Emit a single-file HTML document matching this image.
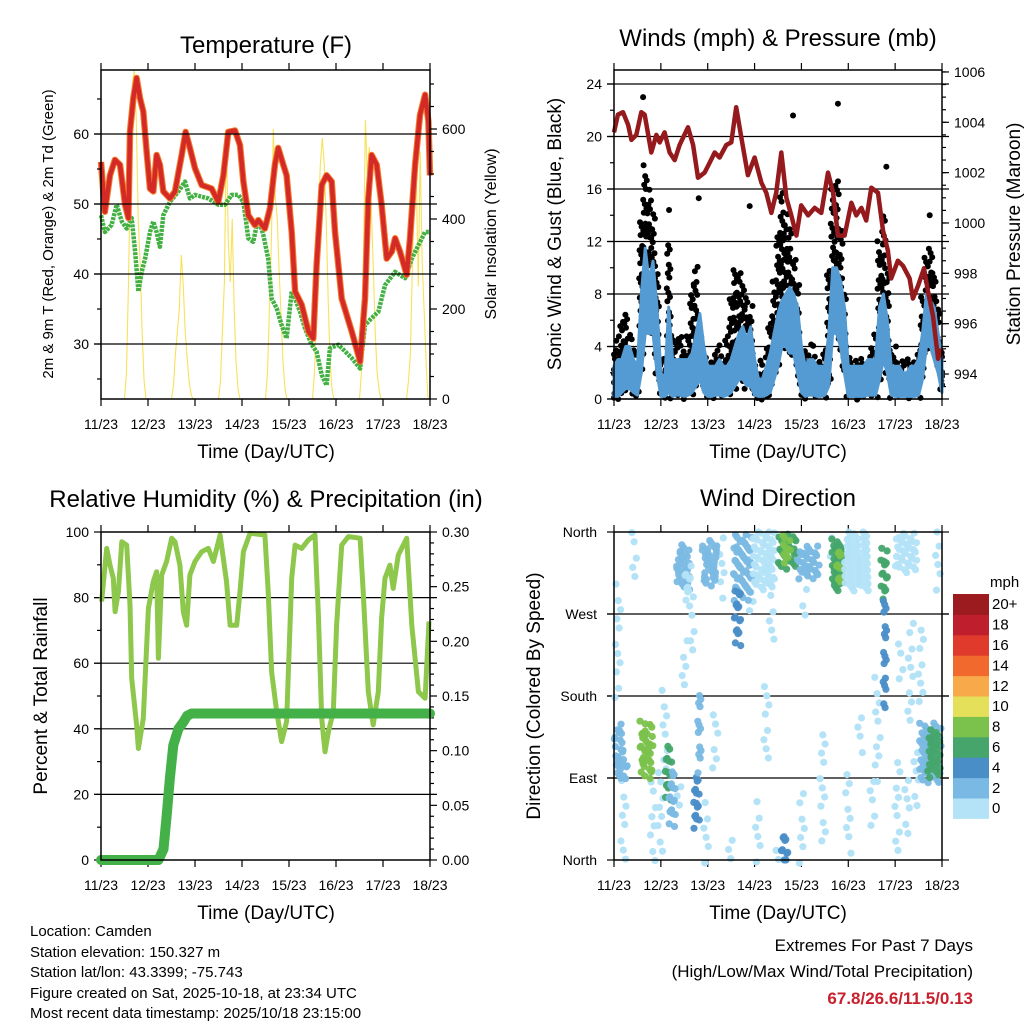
<!DOCTYPE html>
<html><head><meta charset="utf-8"><style>
html,body{margin:0;padding:0;background:#fff;}
svg{display:block;font-family:"Liberation Sans",Arial,sans-serif;}
</style></head><body>
<svg id="s" width="1024" height="1024" viewBox="0 0 1024 1024" xmlns="http://www.w3.org/2000/svg">
<g id="txt">
<text x="266" y="53" font-size="24" text-anchor="middle">Temperature (F)</text>
<text x="778" y="46" font-size="24" text-anchor="middle">Winds (mph) &amp; Pressure (mb)</text>
<text x="266" y="507" font-size="24" text-anchor="middle">Relative Humidity (%) &amp; Precipitation (in)</text>
<text x="778" y="506" font-size="24" text-anchor="middle">Wind Direction</text>
<text x="266" y="458" font-size="19" text-anchor="middle">Time (Day/UTC)</text>
<text x="778" y="458" font-size="19" text-anchor="middle">Time (Day/UTC)</text>
<text x="266" y="919" font-size="19" text-anchor="middle">Time (Day/UTC)</text>
<text x="778" y="919" font-size="19" text-anchor="middle">Time (Day/UTC)</text>
<text transform="translate(53,234) rotate(-90)" font-size="15" text-anchor="middle">2m &amp; 9m T (Red, Orange) &amp; 2m Td (Green)</text>
<text transform="translate(496,234) rotate(-90)" font-size="16" text-anchor="middle">Solar Insolation (Yellow)</text>
<text transform="translate(561,234) rotate(-90)" font-size="19" text-anchor="middle">Sonic Wind &amp; Gust (Blue, Black)</text>
<text transform="translate(1020,234) rotate(-90)" font-size="19" text-anchor="middle">Station Pressure (Maroon)</text>
<text transform="translate(47,696) rotate(-90)" font-size="19" text-anchor="middle">Percent &amp; Total Rainfall</text>
<text transform="translate(540,696) rotate(-90)" font-size="19" text-anchor="middle">Direction (Colored By Speed)</text>
<g font-size="15">
<text x="30" y="936">Location: Camden</text>
<text x="30" y="957">Station elevation: 150.327 m</text>
<text x="30" y="977">Station lat/lon: 43.3399; -75.743</text>
<text x="30" y="998">Figure created on Sat, 2025-10-18, at 23:34 UTC</text>
<text x="30" y="1018">Most recent data timestamp: 2025/10/18 23:15:00</text>
</g>
<text x="973" y="951" font-size="17" text-anchor="end">Extremes For Past 7 Days</text>
<text x="973" y="977" font-size="17" text-anchor="end">(High/Low/Max Wind/Total Precipitation)</text>
<text x="973" y="1004" font-size="17" font-weight="bold" fill="#c8202d" text-anchor="end">67.8/26.6/11.5/0.13</text>
<text x="990" y="587" font-size="15">mph</text>
</g>
</svg>
<script>
// ---- data ----
const dayLabels=["11/23","12/23","13/23","14/23","15/23","16/23","17/23","18/23"];
const tHours=[0,2.0,4.6,7.1,9.7,12.3,14.0,14.8,16.5,18.2,19.9,21.6,23.3,25.0,26.7,28.4,30.1,31.8,35.2,37.8,41.2,43.2,45.4,48.0,51.4,56.5,59.9,62.5,65.0,68.4,71.0,72.7,75.2,78.6,80.3,83.7,86.3,88.8,90.5,93.1,94.8,97.4,99.1,102.5,105.9,108.4,110.1,112.7,115.2,117.8,119.5,122.9,128.0,132.3,134.8,136.5,138.2,140.8,143.3,145.9,148.5,150.2,152.7,156.1,157.8,160.4,162.9,165.5,167.2,168];
const tVals=[56.0,48.9,54.1,56.3,55.6,49.9,48.0,60.3,65.1,68.0,65.1,63.2,57.5,52.2,51.8,57.0,55.6,51.8,50.8,51.8,57.0,60.3,58.0,55.1,52.7,52.2,50.3,54.1,60.3,60.5,58.4,53.2,48.4,47.0,47.7,46.5,49.4,55.6,58.0,55.6,54.1,46.0,37.5,35.6,31.8,30.8,41.3,52.7,54.1,53.2,46.0,36.5,31.8,27.5,36.5,50.8,57.0,55.6,49.9,42.2,43.2,45.1,43.2,39.9,45.1,55.6,62.7,65.6,61.8,54.1];
const tdHours=[0,2.0,5.4,8.0,10.6,13.1,15.7,17.4,19.1,20.8,22.5,25.0,26.7,28.4,30.1,31.8,35.2,39.5,42.9,45.4,48.0,54.8,59.9,63.3,66.7,70.1,72.7,75.2,77.7,80.3,82.9,85.4,87.1,89.7,92.2,94.8,97.4,99.1,101.6,104.2,107.6,110.1,112.7,115.2,116.9,121.2,128.0,132.3,134.8,138.2,141.6,145.0,150.2,155.3,158.7,162.1,165.5,168];
const tdVals=[48.4,46.0,47.0,49.9,47.5,46.5,48.0,43.2,37.5,40.3,42.2,46.0,47.5,46.0,43.9,48.4,50.3,51.8,53.2,50.8,51.3,50.8,49.9,49.9,51.3,51.3,50.3,45.1,44.6,48.0,45.6,42.2,36.5,35.1,32.7,30.8,37.5,36.5,34.6,32.2,29.9,28.9,25.6,24.1,29.4,29.9,28.0,26.5,32.7,33.7,34.6,38.4,40.3,39.4,42.2,44.1,46.0,46.0];
const solarDays=[
[0,60,250,500,700,730,620,400,300,150,40,0],
[0,30,100,150,200,320,250,150,90,40,10,0],
[0,40,150,260,600,350,260,400,200,80,20,0],
[0,60,200,350,600,450,400,280,180,80,20,0],
[0,60,200,400,520,580,520,400,220,80,20,0],
[0,60,300,620,500,560,420,300,150,60,20,0],
[0,40,100,300,450,500,250,550,300,200,80,0]];
const pHours=[0,2.0,4.6,7.2,8.9,11.4,14.0,15.7,19.1,21.7,23.4,25.9,28.5,31.1,33.6,37.9,40.5,43.0,46.4,49.0,51.6,54.1,57.5,60.1,62.6,65.2,68.6,72.0,75.5,78.0,80.6,83.1,85.7,88.3,90.8,93.4,95.9,99.4,102.8,106.2,109.6,112.2,114.7,118.1,121.6,124.1,126.7,129.2,131.8,135.2,137.8,140.3,142.0,145.4,148.0,151.4,153.1,155.7,158.8,160.8,163.4,166.0,167.7];
const pVals=[1003.6,1004.3,1004.4,1003.9,1003.3,1003.5,1004.4,1004.3,1002.8,1003.5,1003.2,1003.6,1002.8,1002.5,1003.1,1003.8,1003.1,1001.8,1002.0,1002.4,1002.8,1002.6,1003.1,1003.2,1004.6,1003.4,1001.9,1002.6,1001.6,1001.2,1000.4,1001.2,1002.8,1001.0,1000.3,999.5,1000.7,1000.3,1000.6,1000.4,1002.0,1001.2,999.5,999.5,1000.8,1000.3,1000.6,1000.1,1001.4,1001.2,999.7,998.9,997.8,998.5,998.3,997.8,997.0,997.5,998.2,997.3,996.3,994.6,995.0];
const wHours=[0,2,4,6,8,10,12,14,16,18,20,22,24,26,28,30,32,34,36,38,40,42,44,46,48,50,52,54,56,58,60,62,64,66,68,70,72,74,76,78,80,82,84,86,88,90,92,94,96,98,100,102,104,106,108,110,112,114,116,118,120,122,124,126,128,130,132,134,136,138,140,142,144,146,148,150,152,154,156,158,160,162,164,166,168];
const windHi=[2.5,3,3,4,4,3,2.5,8,11.5,9,10.5,7,2,1.5,7,3,3,3,3,3,3.5,5,6.5,4,2.5,2.5,2.5,3,2.5,2.5,3,4,5,5.5,4.5,5.5,3,1.5,1.5,2.5,3.5,5,6.5,7.5,8,8.5,8,7,4,2.5,3,3,2.5,2.5,2.5,5,10,10,9,7,2.5,2.5,2.5,2.5,2.5,3,3,3,7,8,6,2.5,2.5,2.5,2,2,2.5,2.5,3,5,8,7.5,7,5,3];
const windLo=[0.2,0.2,0.5,0.8,0.8,0.5,0.3,2,5,5,5,2,0.2,0.2,0.5,0.2,0.3,0.3,0.2,0.3,0.5,1,1.5,0.5,0.2,0.2,0.3,0.3,0.2,0.3,0.5,1,1.5,1.5,1,1,0.3,0.2,0.2,0.3,0.5,1.5,2.5,4,4,3.5,3.5,2,0.5,0.2,0.3,0.3,0.2,0.2,0.3,1,5,5,4,2,0.2,0.2,0.2,0.2,0.2,0.3,0.3,0.3,1.5,3,2,0.3,0.2,0.2,0.2,0.2,0.2,0.2,0.3,1.5,4,4,3,2,0.5];
const gustHi=[4,5,6,7,5,4,3.5,14,18,16,14,10,3,3,12,5,5,5,4,5,9,10,6,3,3,3,4,4,3,5,8,10,10,9,8,7,3,2,3,4,6,9,13,16,14,13,11,9,4,4,4,4,3,3,4,10,16,17,13,8,3,3,3,3,3,3,4,5,12,14,10,4,4,3,3,3,3,3,4,8,11,12,10,7,4];
const gustOutHours=[14.9,91.7,114.7,69.5,28.2,43.4,161.7,139.5];
const gustOutVals=[23,21.6,22.5,14.7,14.4,15.3,14,17.7];
const rhHours=[0.3,2.9,4.6,6.3,7.2,8.9,10.6,13.1,14.8,15.7,18.2,19.1,21.6,24.2,26.7,28.4,29.3,31.0,33.5,36.1,37.8,40.3,42.0,43.7,45.4,48.0,51.4,54.8,57.4,60.8,64.1,65.9,69.3,71.0,72.7,76.1,83.7,85.4,87.1,89.7,92.2,94.8,97.4,99.1,102.5,105.9,109.3,111.0,112.7,114.4,116.1,118.6,120.3,122.9,126.3,132.3,133.9,136.5,139.0,141.6,143.3,145.0,147.5,149.2,151.8,156.1,158.7,162.1,165.5,167.5];
const rhVals=[78.8,95.0,89.9,85.9,75.7,81.8,97.0,96.0,77.7,55.4,41.2,34.0,43.2,76.7,84.9,87.9,61.5,86.9,91.0,98.1,97.0,89.9,75.7,71.6,86.9,91.0,94.0,95.0,91.0,99.1,84.9,71.6,71.6,81.8,94.0,99.6,99.1,81.8,57.4,45.2,36.1,42.2,85.9,96.0,95.0,97.6,99.1,74.7,43.2,33.0,39.1,45.2,71.6,96.0,98.6,98.1,81.8,51.3,41.2,51.3,73.7,85.9,89.9,82.8,93.0,98.1,71.6,51.3,49.3,72.7];
const prHours=[0,29.3,31.9,33.5,35.2,36.9,39.5,42.0,44.0,46.3,168];
const prVals=[0,0,0.01,0.04,0.075,0.105,0.12,0.126,0.132,0.134,0.134];
const wdHour=[3,6,15.5,18,28,30,43,44.5,36,38,50,66,64,77,89,88.5,100,115,116,125,139,139.5,150,162,164,88];
const wdWidth=[4,3,3,4,2,2,3,1.5,6,2,8,8,3,10,8,4,10,6,3,12,3,1.5,10,10,5,3];
const wdLo=[95,90,100,95,70,40,40,100,300,290,305,290,240,300,325,330,312,300,305,300,290,170,320,90,95,0];
const wdHi=[150,110,150,150,120,100,95,190,345,320,350,355,300,360,358,355,340,350,345,360,345,290,360,150,140,30];
const wdSpeed=[3,2,9,8,6,3,5,3,2,1,2,3,4,1,6,8,2,7,9,0,6,4,0,2,6,4];
const spHour=[2,5,10,20,24,26,33,36,40,47,52,55,60,70,74,78,81,83,96,98,107,112,120,126,132,135,145,147,150,152,155,157,166];
const spLo=[180,0,310,0,10,100,60,190,230,0,100,290,0,270,0,110,240,0,0,270,20,330,10,120,40,90,10,200,30,150,60,170,300];
const spHi=[300,90,360,90,100,190,90,240,290,70,160,360,30,300,60,200,290,20,80,300,140,360,100,160,90,200,110,240,100,260,130,260,360];
const cbLabels=["0","2","4","6","8","10","12","14","16","18","20+"];
const cbColors=["#b4e3f8","#7ab9e3","#4a8ec8","#45a56b","#7bc24c","#e5e05a","#f8a94a","#f1692c","#df3a2c","#bf1e2d","#9b1b1f"];

const S=document.getElementById('s');
const NS="http://www.w3.org/2000/svg";
function mk(tag,attrs,parent){const e=document.createElementNS(NS,tag);for(const k in attrs)e.setAttribute(k,attrs[k]);(parent||S).appendChild(e);return e;}
function grp(name){const g=mk('g',{});return g;}
function pathFrom(xs,ys,fx,fy){let d="";for(let i=0;i<xs.length;i++){d+=(i?"L":"M")+fx(xs[i]).toFixed(1)+" "+fy(ys[i]).toFixed(1);}return d;}
function jit(k,a){return (((k*0.6180339)%1)-0.5)*a;}
function jit2(k,a){return (((k*0.7548777+0.3)%1)-0.5)*a;}

const L1=101,R1=430,L2=614,R2=942,T1=70,B1=399,T2=532,B2=860;
const X1=h=>L1+h*(R1-L1)/168, X2=h=>L2+h*(R2-L2)/168;
const yT=v=>344-(v-30)*7, ySol=v=>399-v*0.45;
const yW=v=>399-v*13.125, yP=p=>374-(p-994)*25.17;
const yRH=v=>860-v*3.28, yPr=v=>860-v/0.3*328;
const yD=d=>860-d*328/360;

function xAxis(L,R,top,bot,name){
  const g=grp(name);
  for(let i=0;i<dayLabels.length;i++){
    const x=L+i*(R-L)/7;
    mk('line',{x1:x,y1:bot,x2:x,y2:bot+7,stroke:'#000','stroke-width':1.2},g);
    mk('line',{x1:x,y1:top,x2:x,y2:top-7,stroke:'#000','stroke-width':1.2},g);
    const t=mk('text',{x:x,y:bot+30,'font-size':14,'text-anchor':'middle'},g);
    t.textContent=dayLabels[i];
    
    
  }
}
function yTicks(g,x,dir,vals,fy,len,labels,fmt,grid,L,R){
  vals.forEach(v=>{
    const y=fy(v);
    mk('line',{x1:x,y1:y,x2:x+dir*len,y2:y,stroke:'#000','stroke-width':1.2},g);
    if(grid) mk('line',{x1:L-7,y1:y,x2:R+7,y2:y,stroke:'#000','stroke-width':1.2},g);
    if(labels){
      const t=mk('text',{x:x+dir*(len+5),y:y+5,'font-size':14,'text-anchor':dir<0?'end':'start'},g);
      t.textContent=fmt(v);
      
      
    }
  });
}
function frame(L,T,R,B,name){const r=mk('rect',{x:L,y:T,width:R-L,height:B-T,fill:'none',stroke:'#000','stroke-width':1.5});}

// ---- Panel 1 ----
{
  const g=grp('temperature-panel');
  const ga=grp('temp-axes');
  yTicks(ga,L1,-1,[30,40,50,60],yT,7,true,v=>v,true,L1,R1);
  yTicks(ga,L1,-1,[25,35,45,55,65],yT,4,false);
  yTicks(ga,R1,1,[0,200,400,600],ySol,7,true,v=>v,false);
  yTicks(ga,R1,1,[50,100,150,250,300,350,450,500,550,650,700],ySol,4,false);
  xAxis(L1,R1,T1,B1,'temp-x-axis');
  let sx=[],sy=[];
  sx.push(0);sy.push(0);
  solarDays.forEach((d,di)=>{d.forEach((v,k)=>{sx.push(di*24+12+k);sy.push(v);});});
  const sol=mk('path',{d:pathFrom(sx,sy,X1,ySol),fill:'none',stroke:'#f7dc3e','stroke-width':1.1,opacity:0.85},g);
  
  
  const td=mk('path',{d:pathFrom(tdHours,tdVals,X1,yT),fill:'none',stroke:'#43b043','stroke-width':4.5,'stroke-dasharray':'3 1','stroke-linejoin':'round'},g);
  
  
  const t9=mk('path',{d:pathFrom(tHours,tVals,X1,yT),fill:'none',stroke:'#f47c2a','stroke-width':6.5,'stroke-linejoin':'round'},g);
  
  
  const t2=mk('path',{d:pathFrom(tHours,tVals,X1,yT),fill:'none',stroke:'#d42a27','stroke-width':4.5,'stroke-linejoin':'round'},g);
  
  
  frame(L1,T1,R1,B1,'temp-frame');
}

// ---- Panel 2 ----
{
  const ga=grp('wind-axes');
  yTicks(ga,L2,-1,[0,4,8,12,16,20,24],yW,7,true,v=>v,true,L2,R2);
  yTicks(ga,L2,-1,[2,6,10,14,18,22],yW,4,false);
  yTicks(ga,R2,1,[994,996,998,1000,1002,1004,1006],yP,7,true,v=>v,false);
  const minor=[];for(let p=993.5;p<=1006.1;p+=0.5)minor.push(p);
  yTicks(ga,R2,1,minor,yP,4,false);
  xAxis(L2,R2,T1,B1,'wind-x-axis');
  const gg=grp('gust-dots');
  const g=grp('wind-panel');
  let k=0;
  for(let i=0;i<wHours.length;i++){
    for(let v=windLo[i];v<=gustHi[i];v+=0.45,k++){
      const h=Math.min(168,Math.max(0,wHours[i]+jit(k,2.2)));
      const c=mk('circle',{cx:X2(h).toFixed(1),cy:yW(v+jit2(k,0.5)).toFixed(1),r:3,fill:'#000'},gg);
      
      
    }
  }
  gustOutHours.forEach((h,i)=>{
    const c=mk('circle',{cx:X2(h),cy:yW(gustOutVals[i]),r:3,fill:'#000'},gg);
    
    
  });
  let d="M"+X2(wHours[0])+" "+yW(windHi[0]);
  for(let i=1;i<wHours.length;i++)d+="L"+X2(wHours[i]).toFixed(1)+" "+yW(windHi[i]).toFixed(1);
  for(let i=wHours.length-1;i>=0;i--)d+="L"+X2(wHours[i]).toFixed(1)+" "+yW(windLo[i]).toFixed(1);
  const band=mk('path',{d:d+"Z",fill:'#559bd3',stroke:'#559bd3','stroke-width':3,'stroke-linejoin':'round'},g);
  
  
  const pl=mk('path',{d:pathFrom(pHours,pVals,X2,yP),fill:'none',stroke:'#951a1d','stroke-width':4.5,'stroke-linejoin':'round'},g);
  
  
  frame(L2,T1,R2,B1,'wind-frame');
}

// ---- Panel 3 ----
{
  const ga=grp('rh-axes');
  yTicks(ga,L1,-1,[0,20,40,60,80,100],yRH,7,true,v=>v,false);
  yTicks(ga,L1,-1,[10,30,50,70,90],yRH,4,false);
  [20,40,60,80].forEach(v=>{mk('line',{x1:L1-7,y1:yRH(v),x2:R1+7,y2:yRH(v),stroke:'#000','stroke-width':1.2},ga);});
  yTicks(ga,R1,1,[0,0.05,0.1,0.15,0.2,0.25,0.3],yPr,7,true,v=>v.toFixed(2),false);
  const mn=[];for(let i=1;i<30;i++)if(i%5)mn.push(i/100);
  yTicks(ga,R1,1,mn,yPr,4,false);
  xAxis(L1,R1,T2,B2,'rh-x-axis');
  const g=grp('rh-panel');
  const rh=mk('path',{d:pathFrom(rhHours,rhVals,X1,yRH),fill:'none',stroke:'#8dc74b','stroke-width':5,'stroke-linejoin':'round'},g);
  
  
  const pr=mk('path',{d:pathFrom(prHours,prVals,X1,yPr),fill:'none',stroke:'#44b048','stroke-width':10,'stroke-linejoin':'round','stroke-linecap':'round'},g);
  
  
  frame(L1,T2,R1,B2,'rh-frame');
}

// ---- Panel 4 ----
{
  const ga=grp('dir-axes');
  const dirVals=[0,90,180,270,360], dirNames=["North","East","South","West","North"];
  dirVals.forEach((v,i)=>{
    const y=yD(v);
    mk('line',{x1:L2,y1:y,x2:L2-7,y2:y,stroke:'#000','stroke-width':1.2},ga);
    mk('line',{x1:R2,y1:y,x2:R2+7,y2:y,stroke:'#000','stroke-width':1.2},ga);
    if(i>0&&i<4)mk('line',{x1:L2-7,y1:y,x2:R2+7,y2:y,stroke:'#000','stroke-width':1.2},ga);
    const t=mk('text',{x:L2-17,y:y+5,'font-size':14,'text-anchor':'end'},ga);
    t.textContent=dirNames[i];
    
    
  });
  xAxis(L2,R2,T2,B2,'dir-x-axis');
  const g=grp('dir-points');
  const col=s=>cbColors[Math.min(10,Math.floor(s/2))];
  let k=0;
  spHour.forEach((h,i)=>{
    for(let d=spLo[i];d<=spHi[i];d+=12,k++){
      const x=Math.min(R2,Math.max(L2,X2(h+jit(k,3))));
      const c=mk('circle',{cx:x.toFixed(1),cy:yD(Math.min(360,d+jit2(k,8))).toFixed(1),r:3.6,fill:cbColors[0]},g);
      
      
    }
  });
  wdHour.forEach((h,i)=>{
    for(let d=wdLo[i];d<=wdHi[i];d+=7){
      for(let hh=h-wdWidth[i]/2;hh<=h+wdWidth[i]/2;hh+=1.6,k++){
        const x=Math.min(R2,Math.max(L2,X2(hh+jit(k,1.8))));
        const dd=Math.min(360,Math.max(0,d+jit2(k,12)));
        const c=mk('circle',{cx:x.toFixed(1),cy:yD(dd).toFixed(1),r:3.6,fill:col(wdSpeed[i]),opacity:0.95},g);
        
        
      }
    }
  });
  frame(L2,T2,R2,B2,'dir-frame');
  const cb=grp('speed-colorbar');
  const top=594,bh=20.4;
  cbColors.forEach((c,i)=>{
    const y=top+(10-i)*bh;
    const r=mk('rect',{x:953,y:y.toFixed(1),width:36,height:bh+0.5,fill:c},cb);
    
    
    const t=mk('text',{x:992,y:(y+bh/2+5).toFixed(1),'font-size':15},cb);
    t.textContent=cbLabels[i];
    
    
  });
}
S.appendChild(document.getElementById('txt'));
</script>
</body></html>
